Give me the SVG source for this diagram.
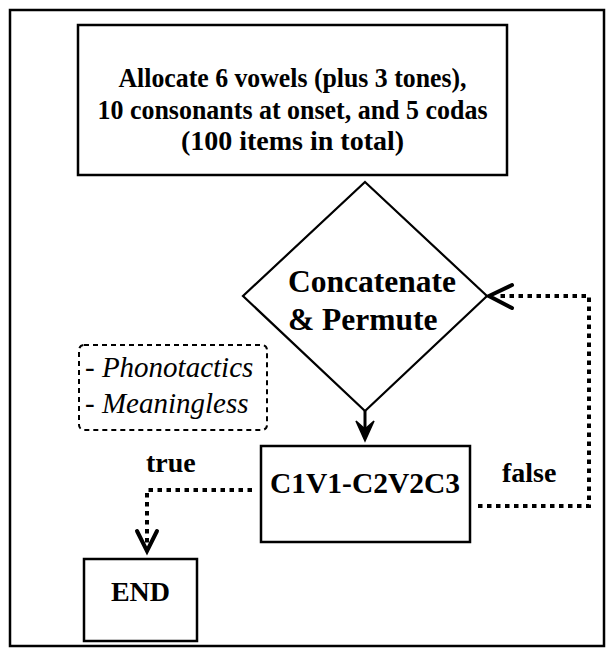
<svg xmlns="http://www.w3.org/2000/svg" width="614" height="655" viewBox="0 0 614 655">
<style>
.box{fill:#fff;stroke:#000;stroke-width:2.5}
.t{font-family:"Liberation Serif","Times New Roman",serif;font-weight:bold;fill:#000}
.it{font-family:"Liberation Serif","Times New Roman",serif;font-style:italic;fill:#000}
.dot{fill:none;stroke:#000;stroke-width:4;stroke-dasharray:4.5 4.5}
.chev{fill:none;stroke:#000;stroke-width:4;stroke-linecap:round;stroke-linejoin:miter}
</style>
<rect x="0" y="0" width="614" height="655" fill="#fff"/>
<rect id="frame" x="10" y="10" width="594" height="636" fill="none" stroke="#000" stroke-width="2.5"/>
<g id="allocate">
<rect class="box" x="78" y="25" width="429" height="150"/>
<text class="t" x="292.5" y="87" font-size="28" text-anchor="middle" textLength="348" lengthAdjust="spacingAndGlyphs">Allocate 6 vowels (plus 3 tones),</text>
<text class="t" x="292.5" y="118.5" font-size="28" text-anchor="middle" textLength="390" lengthAdjust="spacingAndGlyphs">10 consonants at onset, and 5 codas</text>
<text class="t" x="292.5" y="150" font-size="28" text-anchor="middle">(100 items in total)</text>
</g>
<g id="concat">
<polygon points="365,182 487,296 365,411 243,296" fill="#fff" stroke="#000" stroke-width="2.2"/>
<text class="t" x="288" y="292" font-size="31.5">Concatenate</text>
<text class="t" x="288" y="330" font-size="31.5">&amp; Permute</text>
</g>
<g id="constraints">
<rect x="79" y="345" width="188" height="85" rx="5" fill="none" stroke="#000" stroke-width="2" stroke-dasharray="5 4"/>
<text class="it" x="85" y="377" font-size="29">- Phonotactics</text>
<text class="it" x="85" y="413" font-size="29">- Meaningless</text>
</g>
<g id="syllable">
<rect class="box" x="261" y="446" width="209" height="96"/>
<text class="t" x="365" y="493" font-size="29.5" text-anchor="middle">C1V1-C2V2C3</text>
</g>
<g id="end">
<rect class="box" x="84" y="559" width="113" height="82"/>
<text class="t" x="140.5" y="601" font-size="28" text-anchor="middle">END</text>
</g>
<g id="connectors">
<line x1="365" y1="411" x2="365" y2="430" stroke="#000" stroke-width="3"/>
<path d="M365,441 L356,421 L365,429 L374,421 Z" fill="#000" stroke="#000" stroke-width="1.5" stroke-linejoin="miter"/>
<path class="dot" d="M478,506 H589 V296 H500"/>
<path class="chev" d="M512,285 L489,296 L512,308"/>
<path class="dot" d="M252,490 H147 V548"/>
<path class="chev" d="M137,531 L147,551 L157,531"/>
<text class="t" x="146" y="472" font-size="28">true</text>
<text class="t" x="502" y="482" font-size="28">false</text>
</g>
</svg>
